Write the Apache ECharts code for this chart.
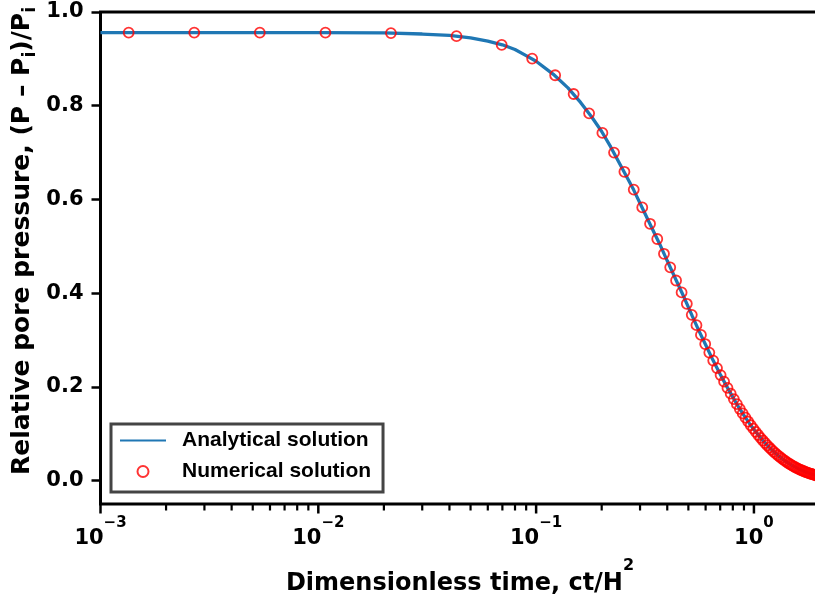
<!DOCTYPE html>
<html>
<head>
<meta charset="utf-8">
<script src="https://cdn.jsdelivr.net/npm/echarts@6/dist/echarts.min.js"></script>
<style>html,body{margin:0;padding:0;background:#fff}#c{width:815px;height:598px}</style>
</head>
<body>
<div id="c"></div>
<script>
// ---- data ----
const analyticalT = [0.001, 0.002, 0.005, 0.01, 0.02, 0.03, 0.04, 0.05, 0.06, 0.07, 0.08, 0.09, 0.1, 0.12, 0.14, 0.16, 0.18, 0.2, 0.22, 0.25, 0.28, 0.31, 0.34, 0.37, 0.40, 0.44, 0.48, 0.52, 0.56, 0.6, 0.65, 0.7, 0.75, 0.8, 0.85, 0.9, 0.95, 1.0, 1.1, 1.2, 1.3, 1.4, 1.5, 1.6, 1.7, 1.8, 1.9, 2.0];
const analyticalP = [0.956, 0.956, 0.956, 0.956, 0.9555, 0.953, 0.950, 0.945, 0.938, 0.930, 0.920, 0.907, 0.895, 0.867, 0.838, 0.807, 0.776, 0.745, 0.712, 0.664, 0.621, 0.578, 0.539, 0.504, 0.469, 0.427, 0.389, 0.352, 0.319, 0.290, 0.256, 0.227, 0.201, 0.178, 0.157, 0.139, 0.123, 0.109, 0.0853, 0.0668, 0.0523, 0.0410, 0.0321, 0.0251, 0.0197, 0.0154, 0.0121, 0.0094];

const numericalT = [0.001347, 0.002694, 0.005388, 0.01078, 0.02155, 0.0431, 0.0695, 0.0959, 0.1223, 0.1487, 0.1751, 0.2015, 0.2279, 0.2543, 0.2807, 0.3071, 0.3335, 0.3599, 0.3863, 0.4127, 0.4391, 0.4655, 0.4919, 0.5183, 0.5447, 0.5711, 0.5975, 0.6239, 0.6503, 0.6767, 0.7031, 0.7295, 0.7559, 0.7823, 0.8087, 0.8351, 0.8615, 0.8879, 0.9143, 0.9407, 0.9671, 0.9935, 1.0199, 1.0463, 1.0727, 1.0991, 1.1255, 1.1519, 1.1783, 1.2047, 1.2311, 1.2575, 1.2839, 1.3103, 1.3367, 1.3631, 1.3895, 1.4159, 1.4423, 1.4687, 1.4951, 1.5215, 1.5479, 1.5743, 1.6007, 1.6271, 1.6535, 1.6799, 1.7063, 1.7327, 1.7591, 1.7855, 1.8119, 1.8383, 1.8647, 1.8911, 1.9175, 1.9439, 1.9703, 1.9967];
const numericalP = [0.956, 0.956, 0.956, 0.956, 0.955, 0.9485, 0.9298, 0.9005, 0.8650, 0.8250, 0.7837, 0.742, 0.700, 0.659, 0.621, 0.583, 0.548, 0.5155, 0.484, 0.455, 0.427, 0.4015, 0.3773, 0.3537, 0.3316, 0.3109, 0.2914, 0.2732, 0.2561, 0.2401, 0.2251, 0.2110, 0.1978, 0.1855, 0.1739, 0.1630, 0.1528, 0.1433, 0.1343, 0.1260, 0.1181, 0.1107, 0.1038, 0.0973, 0.0912, 0.0855, 0.0802, 0.0752, 0.0705, 0.0661, 0.0619, 0.0580, 0.0544, 0.0510, 0.0478, 0.0448, 0.0420, 0.0394, 0.0369, 0.0346, 0.0325, 0.0304, 0.0285, 0.0267, 0.0251, 0.0235, 0.0220, 0.0207, 0.0194, 0.0182, 0.0170, 0.0160, 0.0150, 0.0140, 0.0131, 0.0123, 0.0116, 0.0108, 0.0102, 0.0095];

const xMajorTicks = [0.001, 0.01, 0.1, 1];
const xMinorTicks = [0.002, 0.003, 0.004, 0.005, 0.006, 0.007, 0.008, 0.009,
                     0.02, 0.03, 0.04, 0.05, 0.06, 0.07, 0.08, 0.09,
                     0.2, 0.3, 0.4, 0.5, 0.6, 0.7, 0.8, 0.9];
const yTicks = [0, 0.2, 0.4, 0.6, 0.8, 1.0];

const seriesNames = ['Analytical solution', 'Numerical solution'];
const xTitle = ['Dimensionless time, ct/H', '2'];
const yTitle = ['Relative pore pressure, (P \u2013 P', 'i', ')/P', 'i'];

// ---- chart ----
const FONT = 'DejaVu Sans';
const LFONT = 'Liberation Sans';
const Y_MIN = -0.05, Y_MAX = 1.0;
const analyticalData = analyticalT.map((t, i) => [t, analyticalP[i]]);
const numericalData = numericalT.map((t, i) => [t, numericalP[i]]);
const tickData = xMajorTicks.map(v => [v, 1]).concat(xMinorTicks.map(v => [v, 0]));
const expText = e => (e < 0 ? '\u2212' + (-e) : String(e));

const chart = echarts.init(document.getElementById('c'), null, {renderer: 'canvas'});
const txt = (size, extra) => Object.assign({fontFamily: FONT, fontWeight: 'bold', fontSize: size, color: '#000'}, extra || {});

chart.setOption({
  animation: false,
  backgroundColor: '#fff',
  grid: {
    left: 100.5, top: 12, width: 719, height: 492,
    show: true, borderColor: '#000', borderWidth: 3, backgroundColor: 'rgba(0,0,0,0)',
    containLabel: false, outerBoundsMode: 'none'
  },
  legend: {
    orient: 'vertical', left: 111, top: 424,
    padding: [6, 12, 10, 8], itemGap: 10, itemWidth: 46, itemHeight: 11,
    backgroundColor: '#fff', borderColor: '#444', borderWidth: 3, borderRadius: 0,
    textStyle: {fontFamily: LFONT, fontWeight: 'bold', fontSize: 21, color: '#000', padding: [0, 0, 0, 11]},
    data: [
      {name: seriesNames[0], itemStyle: {color: 'rgba(0,0,0,0)', borderColor: 'rgba(0,0,0,0)', borderWidth: 0, opacity: 0}},
      {name: seriesNames[1]}
    ]
  },
  xAxis: {
    type: 'log', logBase: 10, min: 0.001, max: 2, position: 'bottom',
    name: '{t|' + xTitle[0] + '}{s|' + xTitle[1] + '}',
    nameLocation: 'middle', nameGap: 54, nameMoveOverlap: false,
    nameTextStyle: {
      rich: {
        t: txt(24, {lineHeight: 52}),
        s: txt(16, {lineHeight: 16, verticalAlign: 'top'})
      }
    },
    axisLine: {show: false},
    splitLine: {show: false},
    axisTick: {show: false},
    axisLabel: {
      margin: 12,
      formatter: v => {
        const e = Math.log10(v);
        if (Math.abs(e - Math.round(e)) > 1e-6) return '';
        return '{b|10}{s|' + expText(Math.round(e)) + '}';
      },
      rich: {
        b: txt(21, {lineHeight: 45}),
        s: txt(15, {lineHeight: 15, verticalAlign: 'top'})
      }
    }
  },
  yAxis: {
    type: 'value', min: Y_MIN, max: Y_MAX,
    axisLine: {show: false}, splitLine: {show: false},
    axisTick: {show: true, customValues: yTicks, length: 9, lineStyle: {color: '#000', width: 2.5}},
    axisLabel: Object.assign({customValues: yTicks, margin: 17, formatter: v => v.toFixed(1)}, txt(21)),
    name: '{t|' + yTitle[0] + '}{sub|' + yTitle[1] + '}{t|' + yTitle[2] + '}{sub|' + yTitle[3] + '}',
    nameLocation: 'middle', nameGap: 65.5, nameRotate: 90, nameMoveOverlap: false,
    nameTextStyle: {
      padding: [0, 0, 0, 34],
      rich: {
        t: txt(25, {lineHeight: 25, verticalAlign: 'top'}),
        sub: txt(17, {lineHeight: 17, verticalAlign: 'top', padding: [12, 0, 0, 0]})
      }
    }
  },
  series: [
    {
      name: seriesNames[0], type: 'line',
      data: analyticalData, symbol: 'none', showSymbol: false,
      lineStyle: {color: '#1f77b4', width: 3.3}, itemStyle: {color: '#1f77b4'}, z: 2
    },
    {
      name: seriesNames[1], type: 'scatter',
      data: numericalData, symbol: 'circle', symbolSize: 10,
      itemStyle: {color: 'rgba(255,255,255,0)', borderColor: '#ff0000', borderWidth: 1.8}, z: 3
    },
    {
      name: 'xticks', type: 'custom', silent: true, clip: false, z: 5,
      data: tickData,
      encode: {x: 0, y: -1},
      renderItem: (params, api) => {
        const major = api.value(1) === 1;
        const p = api.coord([api.value(0), Y_MIN]);
        const len = major ? 9.5 : 6.5;
        return {
          type: 'line',
          shape: {x1: p[0], y1: p[1], x2: p[0], y2: p[1] + len},
          style: {stroke: '#000', lineWidth: major ? 2.5 : 2.2}
        };
      }
    }
  ]
});
</script>
</body>
</html>
